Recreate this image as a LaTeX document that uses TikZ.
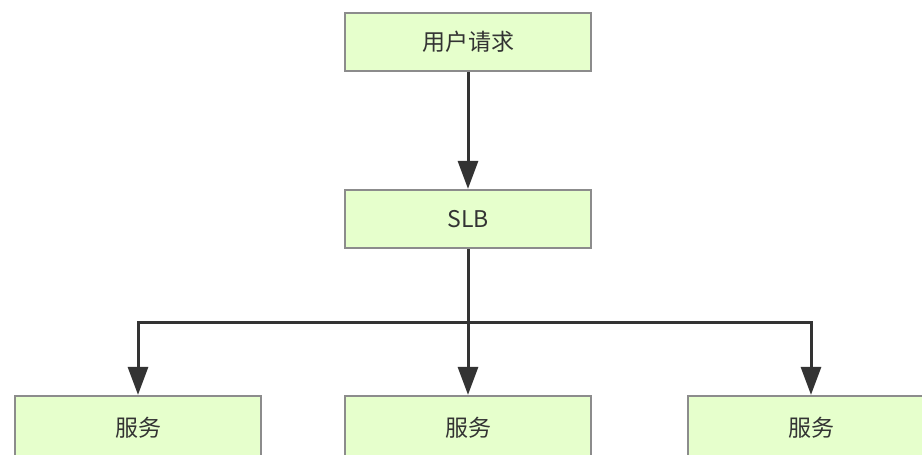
\documentclass[tikz,border=0pt]{standalone}
\usepackage{fontspec}
\setmainfont{Noto Sans CJK SC}
\usetikzlibrary{arrows.meta}
\definecolor{boxfill}{HTML}{E6FFCC}
\definecolor{boxline}{HTML}{8C8C8C}
\definecolor{ink}{HTML}{333333}
\begin{document}
\begin{tikzpicture}[x=1pt,y=-1pt,
  box/.style={draw=boxline, line width=2.2pt, fill=boxfill, minimum width=246pt, minimum height=58pt,
    inner sep=0pt, text=ink, font=\fontsize{23}{27}\selectfont},
  lowbox/.style={box, minimum height=64pt},
  conn/.style={draw=ink, line width=3pt, -{Triangle[length=28pt,width=20pt]}}]
\useasboundingbox (0,0) rectangle (922,455);
\clip (0,0) rectangle (922,455);
\node[box] (req) at (468,42) {用户请求};
\node[box] (slb) at (468,219) {SLB};
\node[lowbox] (s1) at (138,428) {\raisebox{1.5pt}{服务}};
\node[lowbox] (s2) at (468,428) {\raisebox{1.5pt}{服务}};
\node[lowbox] (s3) at (811,428) {\raisebox{1.5pt}{服务}};
\draw[conn] (req) -- (slb);
\draw[conn] (slb) -- (s2);
\coordinate (split) at (468,322);
\draw[conn] (slb.south) -- (split) -| (s1.north);
\draw[conn] (slb.south) -- (split) -| (s3.north);
\end{tikzpicture}
\end{document}
